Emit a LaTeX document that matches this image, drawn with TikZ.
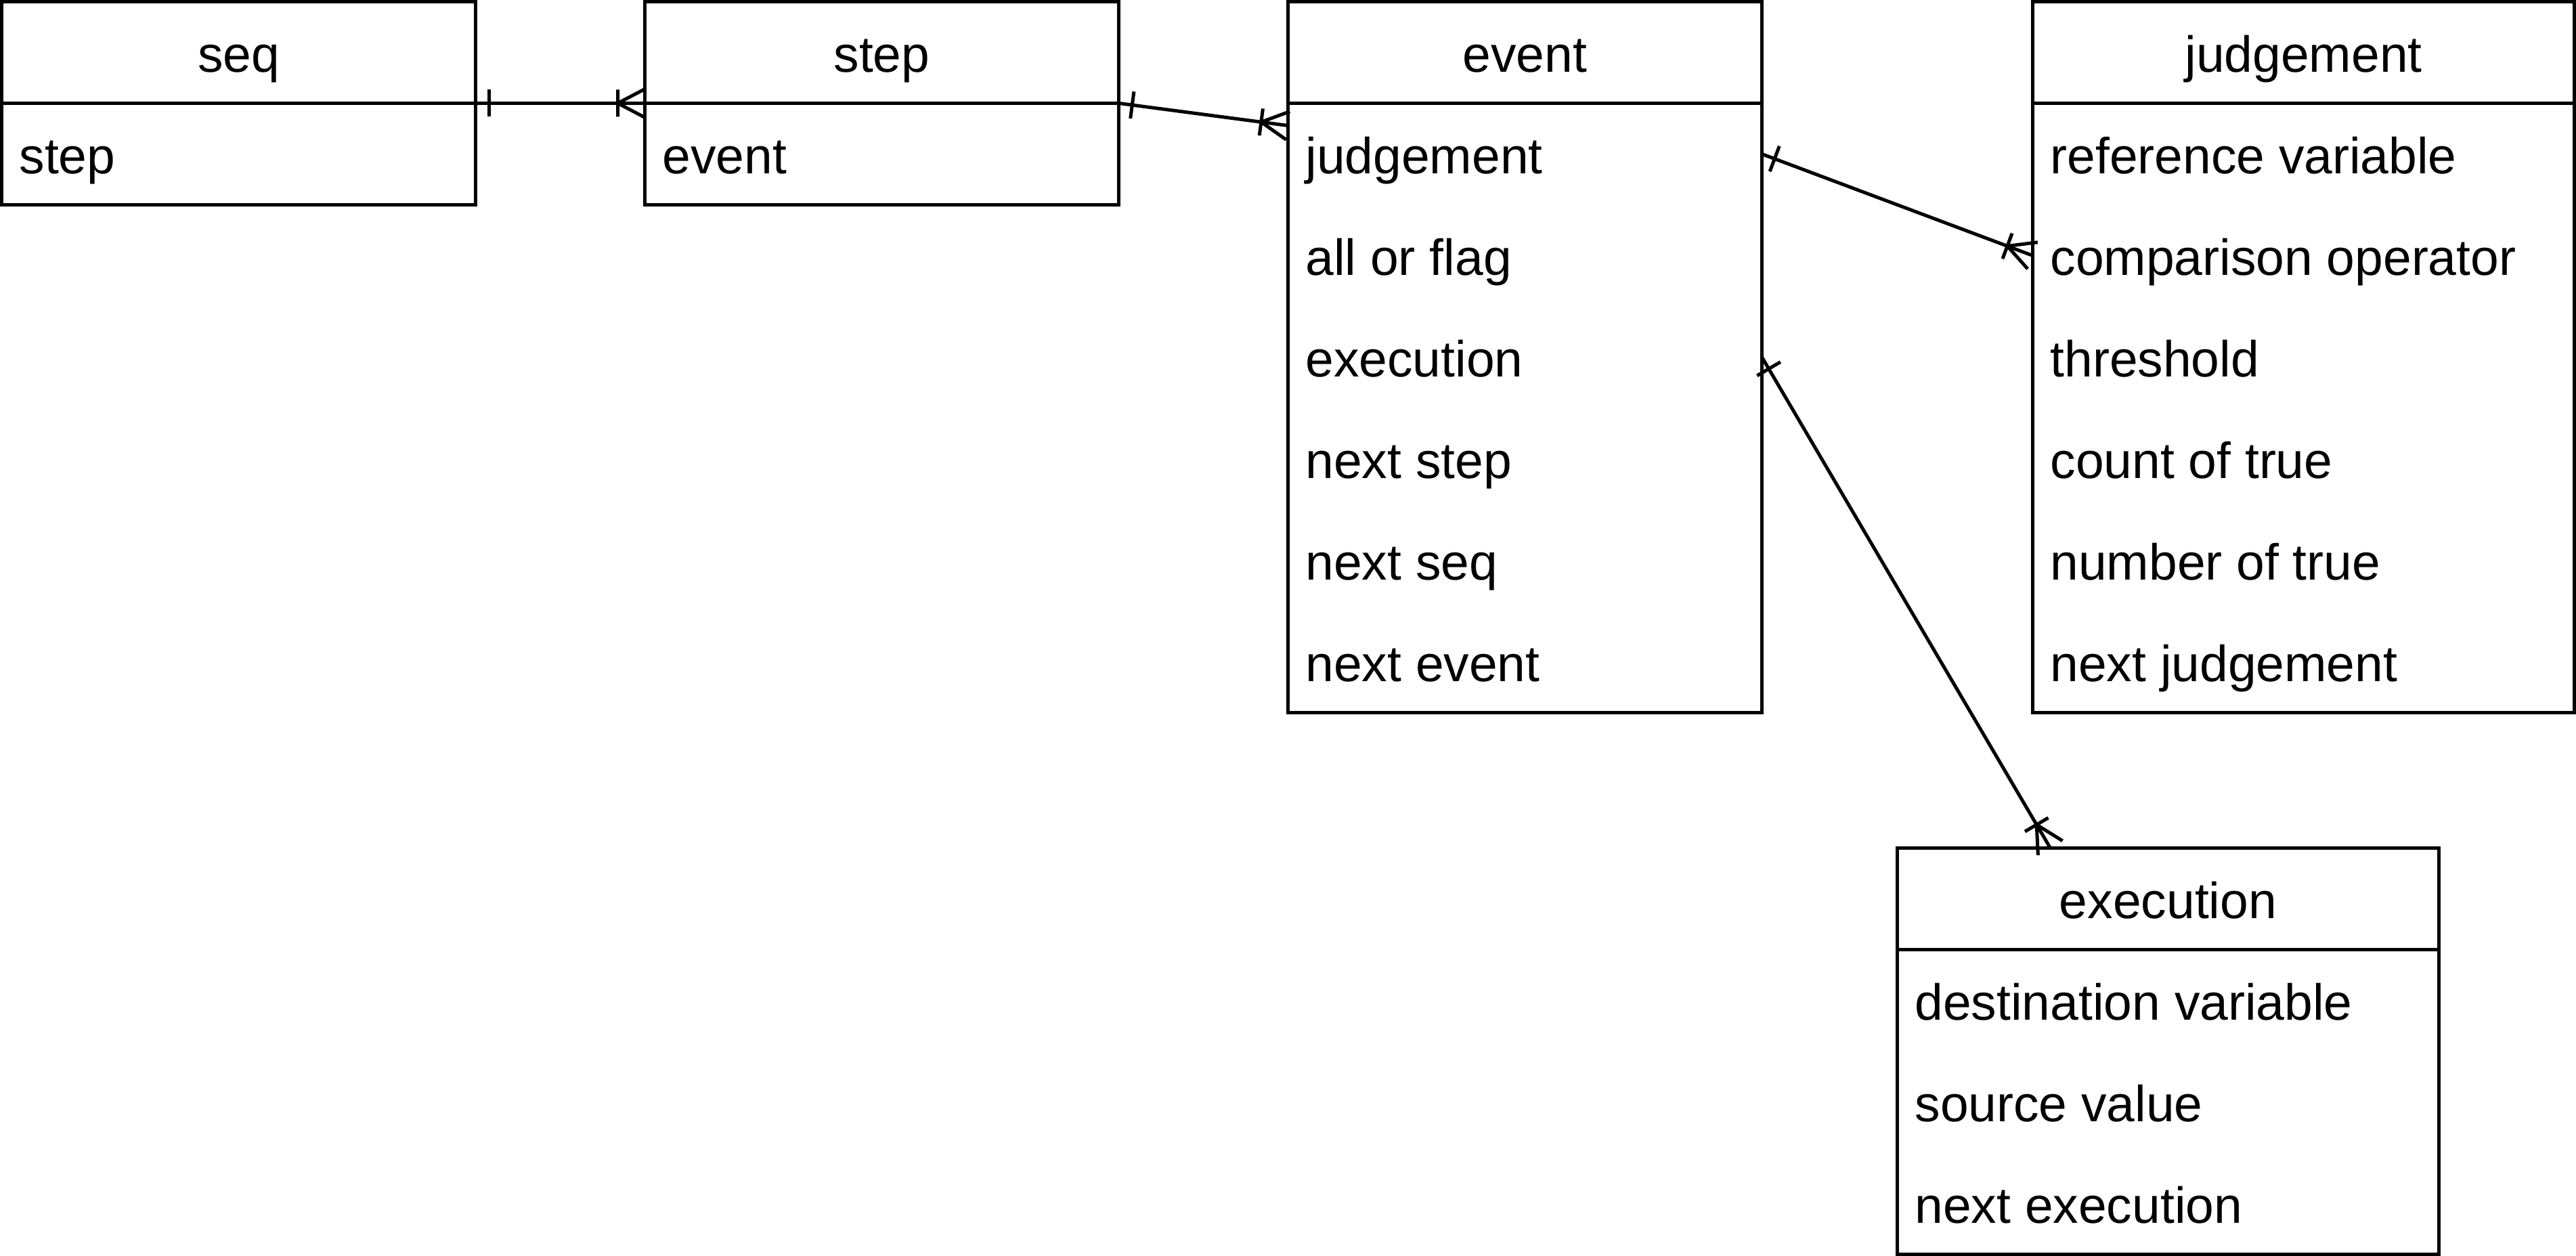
\documentclass[tikz,border=0pt]{standalone}
\usepackage{fontspec}
\setmainfont{Liberation Sans}
\usetikzlibrary{calc,decorations.markings}
\tikzset{
  x=1pt, y=1pt,
  erline/.style={line width=1pt, black},
  erframe/.style={draw, line width=1pt, inner sep=0pt, outer sep=0pt, anchor=north west},
  ertitle/.style={inner sep=0pt, anchor=base, font=\fontsize{15pt}{18pt}\selectfont},
  errow/.style={inner sep=0pt, anchor=base west, font=\fontsize{15pt}{18pt}\selectfont},
  onebar/.style={postaction={decorate, decoration={markings,
      mark=at position 4pt with {\draw[line width=1pt] (0,-4pt) -- (0,4pt);}}}},
  crowfoot/.style={postaction={decorate, decoration={markings,
      mark=at position 1 with {\draw[line width=1pt] (0,4.2pt) -- (-8pt,0) -- (0,-4.2pt)
        (-8pt,4pt) -- (-8pt,-4pt);}}}},
}
% name, x, y, width, number of rows (header included), header text
\newcommand{\erent}[6]{%
  \node[erframe, minimum width=#4pt, minimum height=#5*30pt] (#1) at (#2,-#3) {};
  \draw[erline] ($(#1.north west)+(0,-30)$) -- ($(#1.north east)+(0,-30)$);
  \node[ertitle] (#1-h) at ($(#1.north)+(0,-20.8)$) {#6};
}
\newcommand{\errowtext}[3]{% entity, index, text
  \node[errow] (#1-r#2) at ($(#1.north west)+(5,{-15-30*#2-5.8})$) {#3};
}
\begin{document}
\begin{tikzpicture}
\useasboundingbox (-0.5,0.5) rectangle (760.5,-370.5);

\erent{seq}{0}{0}{140}{2}{seq}
\errowtext{seq}{1}{step}

\erent{step}{190}{0}{140}{2}{step}
\errowtext{step}{1}{event}

\erent{event}{380}{0}{140}{7}{event}
\errowtext{event}{1}{judgement}
\errowtext{event}{2}{all or flag}
\errowtext{event}{3}{execution}
\errowtext{event}{4}{next step}
\errowtext{event}{5}{next seq}
\errowtext{event}{6}{next event}

\erent{judg}{600}{0}{160}{7}{judgement}
\errowtext{judg}{1}{reference variable}
\errowtext{judg}{2}{comparison operator}
\errowtext{judg}{3}{threshold}
\errowtext{judg}{4}{count of true}
\errowtext{judg}{5}{number of true}
\errowtext{judg}{6}{next judgement}

\erent{exec}{560}{250}{160}{4}{execution}
\errowtext{exec}{1}{destination variable}
\errowtext{exec}{2}{source value}
\errowtext{exec}{3}{next execution}

\coordinate (seq-out) at ($(seq.north east)+(0,-30)$);
\coordinate (step-in) at ($(step.north west)+(0,-30)$);
\coordinate (step-out) at ($(step.north east)+(0,-30)$);
\coordinate (event-in) at ($(event.north west)+(0,-36.6)$);
\coordinate (event-j) at ($(event.north east)+(0,-45)$);
\coordinate (judg-in) at ($(judg.north west)+(0,-75)$);
\coordinate (event-x) at ($(event.north east)+(0,-105)$);
\coordinate (exec-in) at ($(exec.north west)+(45.2,0)$);

\draw[erline, onebar, crowfoot] (seq-out) -- (step-in);
\draw[erline, onebar, crowfoot] (step-out) -- (event-in);
\draw[erline, onebar, crowfoot] (event-j) -- (judg-in);
\draw[erline, onebar, crowfoot] (event-x) -- (exec-in);
\end{tikzpicture}
\end{document}
